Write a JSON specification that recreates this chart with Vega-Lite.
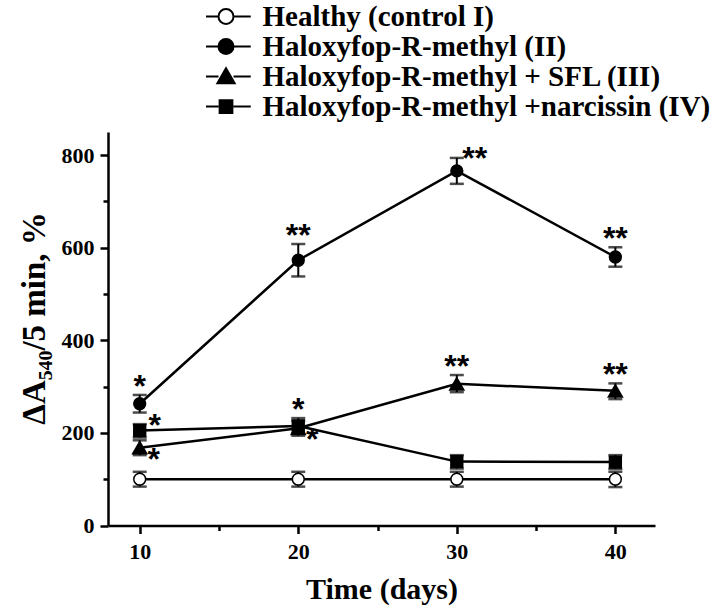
{
  "$schema": "https://vega.github.io/schema/vega-lite/v6.json",
  "autosize": {"type": "none"},
  "padding": {"left": 108, "top": 132, "right": 68, "bottom": 82},
  "width": 547,
  "height": 393.5,
  "background": "white",
  "config": {
    "view": {"stroke": null},
    "axis": {
      "grid": false,
      "domainColor": "black",
      "domainWidth": 2.5,
      "tickColor": "black",
      "tickWidth": 2.5,
      "labelFont": "Liberation Serif",
      "labelFontWeight": "bold",
      "labelFontSize": 22,
      "labelColor": "black",
      "titleFont": "Liberation Serif",
      "titleFontWeight": "bold",
      "titleFontSize": 30,
      "titleColor": "black"
    },
    "legend": {
      "title": null, "orient": "none", "legendX": 103.5, "legendY": -130, "padding": 0,
      "symbolSize": 225, "symbolStrokeWidth": 2, "symbolStrokeColor": "black", "symbolOpacity": 1,
      "labelOffset": 22, "rowPadding": 0,
      "labelFont": "Liberation Serif", "labelFontWeight": "bold", "labelFontSize": 29, "labelColor": "black", "labelLimit": 0
    }
  },
  "data": {
    "values": [
      {"group": "Healthy (control I)", "day": 10, "mean": 100, "lo": 84, "hi": 116, "star": "", "pos": "none"},
      {"group": "Healthy (control I)", "day": 20, "mean": 100, "lo": 84, "hi": 116, "star": "", "pos": "none"},
      {"group": "Healthy (control I)", "day": 30, "mean": 100, "lo": 84, "hi": 116, "star": "", "pos": "none"},
      {"group": "Healthy (control I)", "day": 40, "mean": 100, "lo": 83, "hi": 116, "star": "", "pos": "none"},
      {"group": "Haloxyfop-R-methyl (II)", "day": 10, "mean": 263, "lo": 244, "hi": 282, "star": "*", "pos": "above"},
      {"group": "Haloxyfop-R-methyl (II)", "day": 20, "mean": 573, "lo": 538, "hi": 608, "star": "**", "pos": "above"},
      {"group": "Haloxyfop-R-methyl (II)", "day": 30, "mean": 766, "lo": 738, "hi": 794, "star": "**", "pos": "aboveRight"},
      {"group": "Haloxyfop-R-methyl (II)", "day": 40, "mean": 580, "lo": 559, "hi": 601, "star": "**", "pos": "above"},
      {"group": "Haloxyfop-R-methyl + SFL (III)", "day": 10, "mean": 168, "lo": 152, "hi": 184, "star": "*", "pos": "belowRight"},
      {"group": "Haloxyfop-R-methyl + SFL (III)", "day": 20, "mean": 210, "lo": 194, "hi": 226, "star": "*", "pos": "belowRight"},
      {"group": "Haloxyfop-R-methyl + SFL (III)", "day": 30, "mean": 306, "lo": 288, "hi": 325, "star": "**", "pos": "above"},
      {"group": "Haloxyfop-R-methyl + SFL (III)", "day": 40, "mean": 291, "lo": 273, "hi": 307, "star": "**", "pos": "above"},
      {"group": "Haloxyfop-R-methyl +narcissin (IV)", "day": 10, "mean": 205, "lo": 190, "hi": 219, "star": "*", "pos": "right"},
      {"group": "Haloxyfop-R-methyl +narcissin (IV)", "day": 20, "mean": 215, "lo": 199, "hi": 232, "star": "*", "pos": "above"},
      {"group": "Haloxyfop-R-methyl +narcissin (IV)", "day": 30, "mean": 138, "lo": 123, "hi": 152, "star": "", "pos": "none"},
      {"group": "Haloxyfop-R-methyl +narcissin (IV)", "day": 40, "mean": 137, "lo": 122, "hi": 152, "star": "", "pos": "none"}
    ]
  },
  "encoding": {
    "x": {
      "field": "day", "type": "quantitative",
      "scale": {"domain": [8, 42.5], "nice": false, "zero": false},
      "axis": {
        "title": "Time (days)",
        "values": [10, 15, 20, 25, 30, 35, 40],
        "labelExpr": "datum.value % 10 === 0 ? datum.label : ''",
        "tickSize": {"condition": {"test": "datum.value % 10 === 0", "value": 8}, "value": 5},
        "labelPadding": 8,
        "titlePadding": 12
      }
    }
  },
  "layer": [
    {
      "mark": {"type": "line", "color": "black", "strokeWidth": 2.5},
      "encoding": {
        "y": {
          "field": "mean", "type": "quantitative", "title": "ΔA₅₄₀/5 min, %",
          "scale": {"domain": [0, 850], "nice": false},
          "axis": {
            "title": "ΔA₅₄₀/5 min, %",
            "titleFontSize": 33,
            "titleY": 186,
            "values": [0, 100, 200, 300, 400, 500, 600, 700, 800],
            "labelExpr": "datum.value % 200 === 0 ? datum.label : ''",
            "tickSize": {"condition": {"test": "datum.value % 200 === 0", "value": 8}, "value": 5},
            "labelPadding": 6,
            "titlePadding": 10
          }
        },
        "detail": {"field": "group"}
      }
    },
    {
      "mark": {"type": "errorbar", "ticks": {"size": 14, "thickness": 2.5, "color": "black"}, "rule": {"strokeWidth": 2, "color": "black"}},
      "encoding": {
        "y": {"field": "lo", "type": "quantitative", "title": "ΔA₅₄₀/5 min, %"},
        "y2": {"field": "hi"},
        "detail": {"field": "group"}
      }
    },
    {
      "mark": {"type": "point", "opacity": 0, "strokeWidth": 2},
      "encoding": {
        "y": {"field": "mean", "type": "quantitative", "title": "ΔA₅₄₀/5 min, %"},
        "shape": {
          "field": "group", "type": "nominal",
          "scale": {
            "domain": ["Healthy (control I)", "Haloxyfop-R-methyl (II)", "Haloxyfop-R-methyl + SFL (III)", "Haloxyfop-R-methyl +narcissin (IV)"],
            "range": [
              "M-2.67,0H-1M1,0H3.3M-1,0A1,1,0,1,1,1,0A1,1,0,1,1,-1,0Z",
              "M-2.67,0H-1M1,0H3.3M-1,0A1,1,0,1,1,1,0A1,1,0,1,1,-1,0Z",
              "M-2.67,0H-1M1,0H3.3M0,-1.1L1.15,0.9L-1.15,0.9Z",
              "M-2.67,0H-1M1,0H3.3M-0.85,-0.85H0.85V0.85H-0.85Z"
            ]
          }
        },
        "fill": {
          "field": "group", "type": "nominal",
          "scale": {
            "domain": ["Healthy (control I)", "Haloxyfop-R-methyl (II)", "Haloxyfop-R-methyl + SFL (III)", "Haloxyfop-R-methyl +narcissin (IV)"],
            "range": ["white", "black", "black", "black"]
          }
        },
        "stroke": {
          "field": "group", "type": "nominal",
          "scale": {
            "domain": ["Healthy (control I)", "Haloxyfop-R-methyl (II)", "Haloxyfop-R-methyl + SFL (III)", "Haloxyfop-R-methyl +narcissin (IV)"],
            "range": ["black", "black", "black", "black"]
          }
        }
      }
    },
    {
      "mark": {"type": "point", "stroke": "black", "strokeWidth": 1.5, "opacity": 1, "fillOpacity": 1},
      "encoding": {
        "y": {"field": "mean", "type": "quantitative", "title": "ΔA₅₄₀/5 min, %"},
        "shape": {
          "condition": [
            {"test": "datum.group === 'Haloxyfop-R-methyl + SFL (III)'", "value": "triangle-up"},
            {"test": "datum.group === 'Haloxyfop-R-methyl +narcissin (IV)'", "value": "square"}
          ],
          "value": "circle"
        },
        "fill": {
          "condition": {"test": "datum.group === 'Healthy (control I)'", "value": "white"},
          "value": "black"
        },
        "size": {
          "condition": {"test": "datum.group === 'Haloxyfop-R-methyl + SFL (III)'", "value": 200},
          "value": 140
        }
      }
    },
    {
      "transform": [{"filter": "datum.pos === 'above'"}],
      "mark": {"type": "text", "font": "Liberation Sans", "fontSize": 32, "fontWeight": "bold", "color": "black", "align": "center", "baseline": "alphabetic", "dy": 2},
      "encoding": {"y": {"field": "hi", "type": "quantitative", "title": "ΔA₅₄₀/5 min, %"}, "text": {"field": "star"}}
    },
    {
      "transform": [{"filter": "datum.pos === 'aboveRight'"}],
      "mark": {"type": "text", "font": "Liberation Sans", "fontSize": 32, "fontWeight": "bold", "color": "black", "align": "center", "baseline": "alphabetic", "dx": 18, "dy": 11},
      "encoding": {"y": {"field": "hi", "type": "quantitative", "title": "ΔA₅₄₀/5 min, %"}, "text": {"field": "star"}}
    },
    {
      "transform": [{"filter": "datum.pos === 'right'"}],
      "mark": {"type": "text", "font": "Liberation Sans", "fontSize": 32, "fontWeight": "bold", "color": "black", "align": "center", "baseline": "alphabetic", "dx": 15, "dy": 5},
      "encoding": {"y": {"field": "mean", "type": "quantitative", "title": "ΔA₅₄₀/5 min, %"}, "text": {"field": "star"}}
    },
    {
      "transform": [{"filter": "datum.pos === 'belowRight'"}],
      "mark": {"type": "text", "font": "Liberation Sans", "fontSize": 32, "fontWeight": "bold", "color": "black", "align": "center", "baseline": "alphabetic", "dx": 14, "dy": 22},
      "encoding": {"y": {"field": "mean", "type": "quantitative", "title": "ΔA₅₄₀/5 min, %"}, "text": {"field": "star"}}
    }
  ],
  "resolve": {"scale": {"shape": "independent", "fill": "independent", "stroke": "independent"}}
}
